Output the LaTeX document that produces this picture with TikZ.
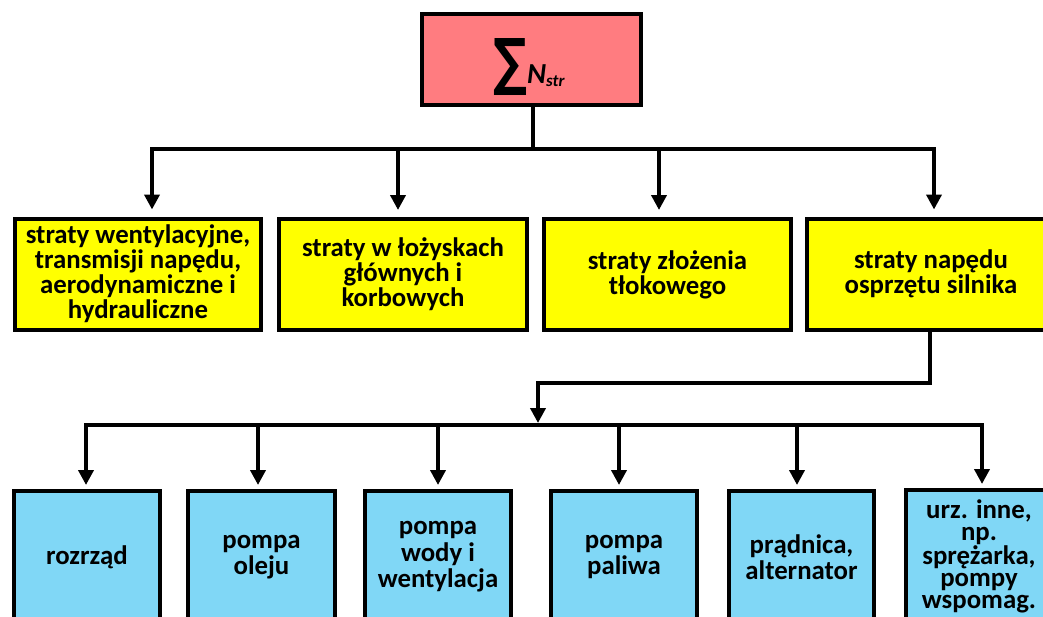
\documentclass[tikz,border=0pt]{standalone}
\usepackage{fontspec}
\setmainfont{Carlito}
\newfontfamily\symfont{DejaVu Sans}
\usetikzlibrary{arrows.meta,calc}
\definecolor{sumred}{RGB}{255,124,128}
\definecolor{lossyellow}{RGB}{255,255,0}
\definecolor{partblue}{RGB}{128,215,246}
\begin{document}
\begin{tikzpicture}[x=1pt,y=-1pt,
  wire/.style={line width=4pt,line join=miter,line cap=rect},
  arr/.style={wire,line cap=butt,-{Triangle[width=15pt,length=15pt]}},
  framed/.style={draw=black,line width=4pt,inner sep=0pt,align=center},
  sumbox/.style={framed,fill=sumred},
  lossbox/.style={framed,fill=lossyellow,minimum height=111,
    font=\fontsize{26.8}{25}\selectfont\bfseries},
  partbox/.style={framed,fill=partblue,minimum height=132,
    font=\fontsize{26.8}{26.5}\selectfont\bfseries}]
\useasboundingbox (0,0) rectangle (1043,616);
\clip (0,0) rectangle (1043,616);

% total losses
\node[sumbox,minimum width=219,minimum height=91] (sum) at (531.5,59.5) {};
\node[inner sep=0pt] (sigma) at (510,66.5) {\resizebox*{34pt}{57pt}{\symfont\bfseries ∑}};
\node[inner sep=0pt,anchor=base west] (nstr) at (527,83)
  {\fontsize{29}{29}\selectfont\bfseries\itshape N\raisebox{-3pt}{\fontsize{17}{17}\selectfont str}};

% first level
\node[lossbox,minimum width=246] (y1) at (138,274)
  {straty wentylacyjne,\\transmisji napędu,\\aerodynamiczne i\\hydrauliczne};
\node[lossbox,minimum width=248] (y2) at (403,274.5)
  {straty w łożyskach\\głównych i\\korbowych};
\node[lossbox,minimum width=247] (y3) at (667.5,274.5)
  {straty złożenia\\tłokowego};
\node[lossbox,minimum width=248] (y4) at (931,274)
  {straty napędu\\osprzętu silnika};

% second level
\node[partbox,minimum width=146] (p1) at (87,557) {rozrząd};
\node[partbox,minimum width=147] (p2) at (261.5,557) {pompa\\oleju};
\node[partbox,minimum width=146] (p3) at (438,557) {pompa\\wody i\\wentylacja};
\node[partbox,minimum width=146] (p4) at (624,557) {pompa\\paliwa};
\node[partbox,minimum width=145] (p5) at (801.5,557) {prądnica,\\alternator};
\node[partbox,minimum width=146,font=\fontsize{26.8}{22}\selectfont\bfseries] (p6) at (979,556)
  {urz. inne,\\np.\\sprężarka,\\pompy\\wspomag.};

% upper distribution bus
\coordinate (ua) at (152,149);
\coordinate (ub) at (398,149);
\coordinate (uc) at (659,149);
\coordinate (ud) at (934,149);
\draw[wire] ([xshift=1.5pt]sum.south) -- ([xshift=1.5pt]sum.south |- ua);
\draw[arr] (ud) -- (ua) -- ($(ua |- y1.north)+(0,-7)$);
\draw[arr] (ua) -- (ud) -- ($(ud |- y4.north)+(0,-7)$);
\draw[arr] (ub) -- ($(ub |- y2.north)+(0,-7)$);
\draw[arr] (uc) -- ($(uc |- y3.north)+(0,-7)$);

% link to the lower bus
\coordinate (elbow) at (538,383);
\coordinate (hub) at (538,425);
\draw[arr] ([xshift=-1pt]y4.south) |- (elbow) -- ($(hub)+(0,-2)$);

% lower distribution bus
\coordinate (la) at (86,425);
\coordinate (lb) at (258,425);
\coordinate (lc) at (438,425);
\coordinate (ld) at (619,425);
\coordinate (le) at (797,425);
\coordinate (lf) at (982,425);
\draw[arr] (lf) -- (la) -- ($(la |- p1.north)+(0,-4)$);
\draw[arr] (la) -- (lf) -- ($(lf |- p6.north)+(0,-4)$);
\draw[arr] (lb) -- ($(lb |- p2.north)+(0,-4)$);
\draw[arr] (lc) -- ($(lc |- p3.north)+(0,-4)$);
\draw[arr] (ld) -- ($(ld |- p4.north)+(0,-4)$);
\draw[arr] (le) -- ($(le |- p5.north)+(0,-4)$);
\end{tikzpicture}
\end{document}
